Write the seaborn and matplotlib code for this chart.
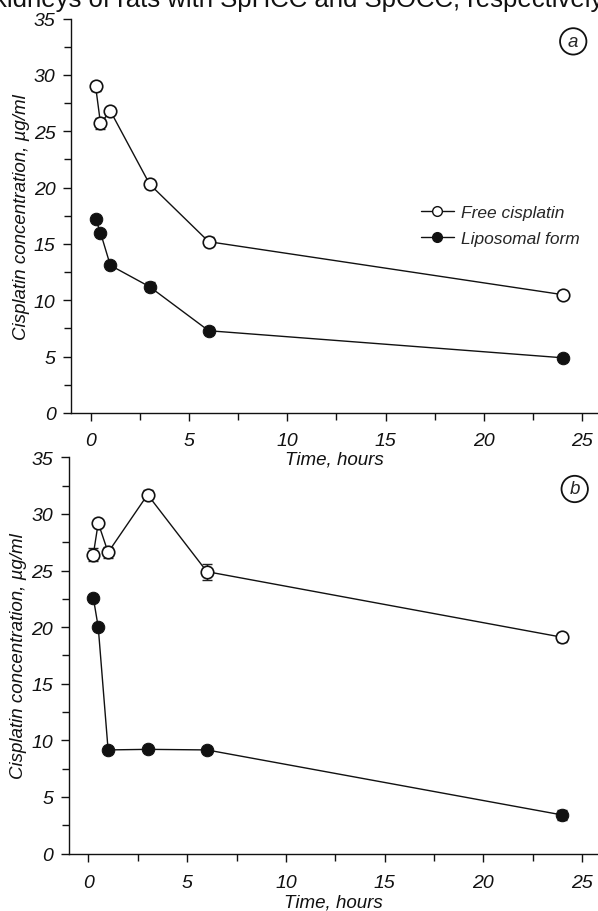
import numpy as np
import pandas as pd
import matplotlib
matplotlib.use("Agg")
import matplotlib.pyplot as plt
import seaborn as sns
from matplotlib.ticker import MultipleLocator
from matplotlib.lines import Line2D

# Data
time_h = [0.25, 0.5, 1, 3, 6, 24]

free_a = [29.0, 25.7, 26.8, 20.3, 15.2, 10.5]
free_a_err = [0.4, 0.5, 0.3, 0.2, 0.4, 0.3]
lipo_a = [17.2, 16.0, 13.1, 11.2, 7.3, 4.9]
lipo_a_err = [0.1, 0.1, 0.1, 0.4, 0.3, 0.2]

free_b = [26.4, 29.2, 26.6, 31.7, 24.9, 19.1]
free_b_err = [0.6, 0.2, 0.5, 0.4, 0.7, 0.4]
lipo_b = [22.6, 20.0, 9.15, 9.2, 9.15, 3.4]
lipo_b_err = [0.1, 0.1, 0.1, 0.1, 0.1, 0.4]

series_names = ["Free cisplatin", "Liposomal form"]
panel_letters = ["a", "b"]

sns.set_style("ticks")
plt.rcParams['font.family'] = ['Liberation Sans Narrow', 'Liberation Sans', 'DejaVu Sans']
plt.rcParams['font.style'] = 'italic'

fig = plt.figure(figsize=(5.98, 9.12), dpi=100)
W, H = 598, 912

# axes placed in pixel terms
ax_a = fig.add_axes([71 / W, 1 - 414 / H, (W - 71) / W, (414 - 19.5) / H])
ax_b = fig.add_axes([68.6 / W, 1 - 854.5 / H, (W - 68.6) / W, (854.5 - 458.3) / H])

panels = [
    (ax_a, free_a, free_a_err, lipo_a, lipo_a_err),
    (ax_b, free_b, free_b_err, lipo_b, lipo_b_err),
]

for i, (ax, fv, fe, lv, le) in enumerate(panels):
    df = pd.DataFrame({
        'Time': time_h * 2,
        'Conc': fv + lv,
        'Err': fe + le,
        'Form': [series_names[0]] * 6 + [series_names[1]] * 6,
    })
    # error bars first, below markers
    for name in series_names:
        d = df[df['Form'] == name]
        ax.errorbar(d['Time'], d['Conc'], yerr=d['Err'], fmt='none',
                    ecolor='#222222', elinewidth=1.0, capsize=3.5, capthick=1.0, zorder=2)
    sns.lineplot(data=df, x='Time', y='Conc', hue='Form', style='Form',
                 palette=['#111111', '#111111'], markers=['o', 'o'], dashes=False,
                 linewidth=1.0, markersize=9, ax=ax, legend=False, zorder=3)
    lines = ax.get_lines()[-2:]
    lines[0].set_markerfacecolor('white')
    lines[0].set_markeredgecolor('#111111')
    lines[0].set_markeredgewidth(1.2)
    lines[1].set_markerfacecolor('#111111')
    lines[1].set_markeredgecolor('#111111')

    ax.set_xlim(-1.0, 25.8)
    ax.set_ylim(0, 35)
    ax.xaxis.set_major_locator(MultipleLocator(5))
    ax.xaxis.set_minor_locator(MultipleLocator(2.5))
    ax.yaxis.set_major_locator(MultipleLocator(5))
    ax.yaxis.set_minor_locator(MultipleLocator(2.5))
    ax.tick_params(axis='both', which='major', length=6, width=1.0, labelsize=14,
                   direction='out', color='#111111', labelcolor='#111111')
    ax.tick_params(axis='both', which='minor', length=5, width=1.0, direction='out', color='#111111')
    ax.tick_params(axis='x', which='major', pad=8 if i == 0 else 9)
    ax.tick_params(axis='y', which='major', pad=5)
    for s in ['left', 'bottom']:
        ax.spines[s].set_linewidth(1.0)
        ax.spines[s].set_color('#111111')
    sns.despine(ax=ax)
    ax.patch.set_visible(False)

    ax.set_xlabel('Time, hours', fontsize=13.5, style='italic', labelpad=1 if i == 0 else 1.5,
                  color='#111111')
    ax.set_ylabel('Cisplatin concentration, µg/ml', fontsize=13.5, style='italic',
                  labelpad=3, color='#111111')

    ax.text(0.953 if i == 0 else 0.956, 0.942 if i == 0 else 0.92, panel_letters[i],
            transform=ax.transAxes, ha='center', va='center', fontsize=13.5, style='italic',
            bbox=dict(boxstyle='circle,pad=0.25', fc='white', ec='#111111', lw=1.3))

# legend in panel a
handles = [
    Line2D([], [], color='#111111', lw=1.0, marker='o', markersize=7, markerfacecolor='white',
           markeredgecolor='#111111'),
    Line2D([], [], color='#111111', lw=1.0, marker='o', markersize=7, markerfacecolor='#111111',
           markeredgecolor='#111111'),
]
ax_a.legend(handles, series_names, loc='upper left', bbox_to_anchor=(414 / W, 1 - 199 / H),
            bbox_transform=fig.transFigure, frameon=False, fontsize=12.5, handlelength=1.9,
            handletextpad=0.4, labelspacing=0.6, borderaxespad=0)

# clipped caption line at the top of the page
fig.text(0.5, 1 - 6.5 / H, 'kidneys of rats with SpHCC and SpOCC, respectively',
         ha='center', va='baseline', fontsize=18.5, style='normal',
         family=['Liberation Sans', 'DejaVu Sans'], color='#111111')

fig.savefig('out.png', dpi=100, facecolor='white')
